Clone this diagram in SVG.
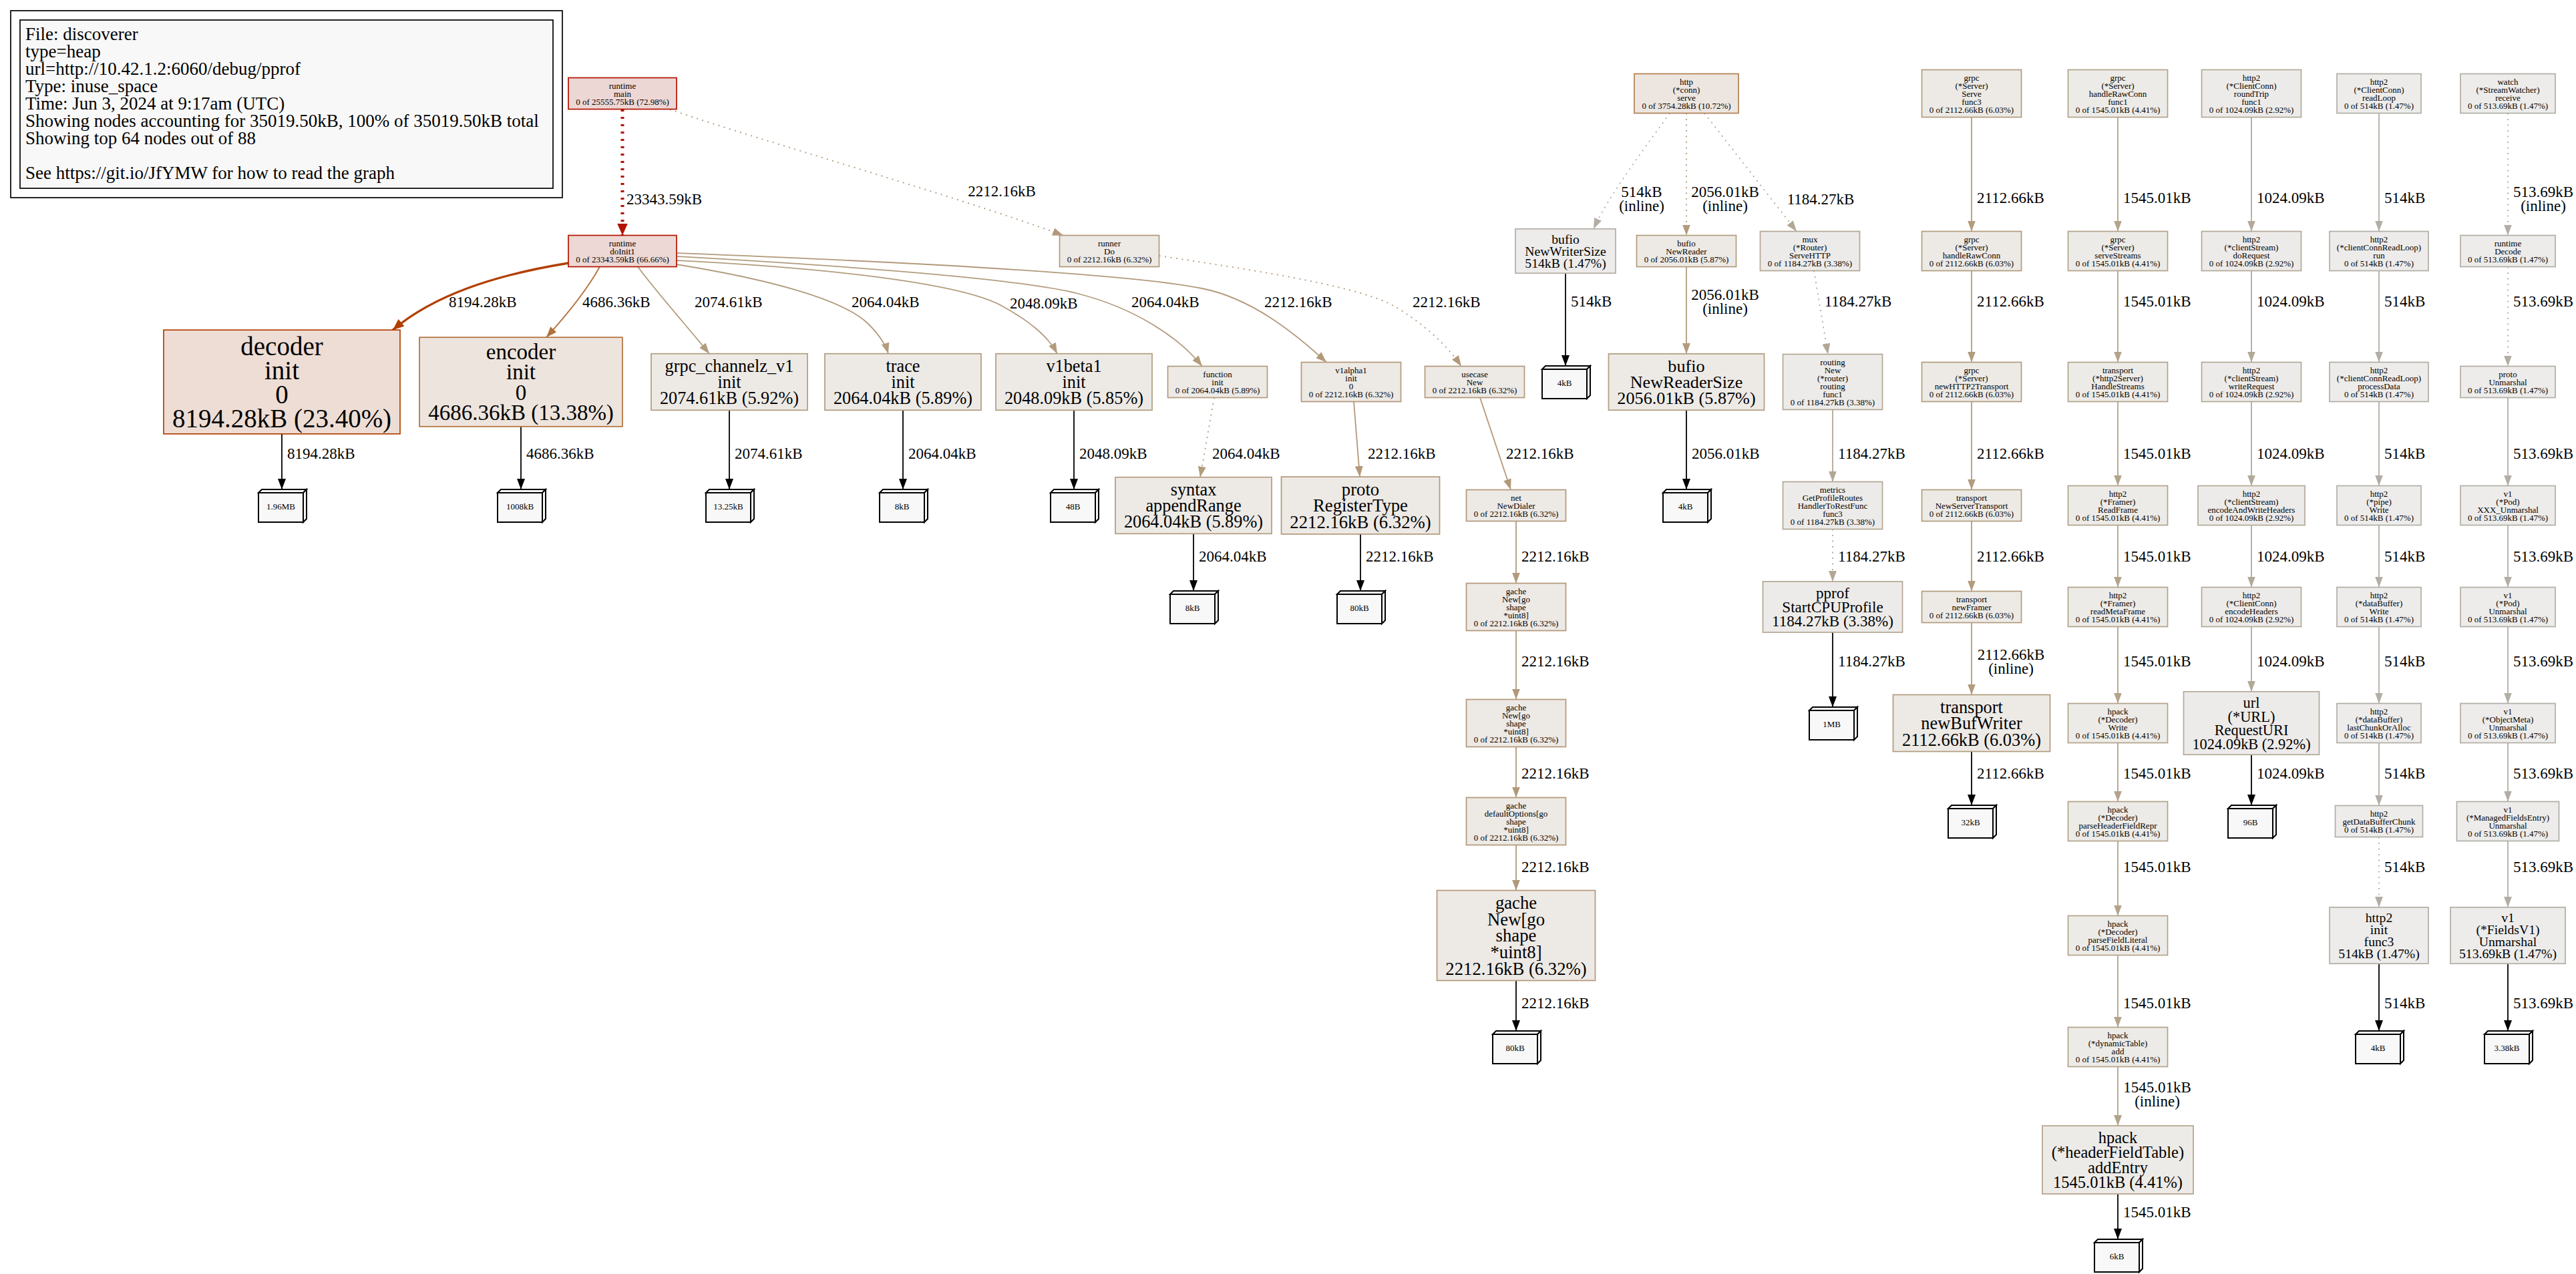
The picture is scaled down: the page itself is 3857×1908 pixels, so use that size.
<svg xmlns="http://www.w3.org/2000/svg" xmlns:xlink="http://www.w3.org/1999/xlink" width="3857" height="1908" viewBox="0 0 3857 1908">
<style>
text{font-family:"Liberation Serif","Times New Roman",serif;fill:#000}
.s{font-size:13px;text-anchor:middle}
.c{text-anchor:middle}
.l{font-size:23px}
.lc{font-size:23px;text-anchor:middle}
.lg{font-size:27px}
.n{stroke-width:1.7}
.nM{fill:#edd7d5;stroke:#b21000}
.nI{fill:#edd8d5;stroke:#b21400}
.nD{fill:#edddd5;stroke:#b23f00}
.nE{fill:#ede4dd;stroke:#b2713b}
.nH{fill:#ede6e0;stroke:#b28152}
.nA{fill:#ede9e5;stroke:#b2997a}
.nB{fill:#edeae6;stroke:#b29c7d}
.nC{fill:#edebe7;stroke:#b2a38b}
.nP{fill:#edebe9;stroke:#b2a794}
.nQ{fill:#edebe9;stroke:#b2a998}
.nF{fill:#edeceb;stroke:#b2aea5}
.e{fill:none;stroke-width:1.8}
.dt{stroke-dasharray:2 6.5}
.cR{stroke:#b21400;stroke-width:5;stroke-dasharray:3 8;marker-end:url(#mR)}
.cD{stroke:#b23f00;stroke-width:3.3;marker-end:url(#mD)}
.cE{stroke:#b2713b;marker-end:url(#mE)}
.cA{stroke:#b2997a;marker-end:url(#mA)}
.cB{stroke:#b29c7d;marker-end:url(#mB)}
.cC{stroke:#b2a38b;marker-end:url(#mC)}
.cP{stroke:#b2a794;marker-end:url(#mP)}
.cQ{stroke:#b2a998;marker-end:url(#mQ)}
.cF{stroke:#b2aea5;marker-end:url(#mF)}
.cK{stroke:#000;marker-end:url(#mK)}
.lf{fill:#f8f8f8;stroke:#000;stroke-width:2;stroke-linejoin:miter}
</style>
<defs>
<marker id="mR" markerUnits="userSpaceOnUse" markerWidth="20" markerHeight="18" refX="18" refY="8" orient="auto"><path d="M0,0L18,8L0,16z" fill="#b21400"/></marker>
<marker id="mD" markerUnits="userSpaceOnUse" markerWidth="19" markerHeight="15" refX="17" refY="7" orient="auto"><path d="M0,0L17,7L0,14z" fill="#b23f00"/></marker>
<marker id="mE" markerUnits="userSpaceOnUse" markerWidth="17" markerHeight="12" refX="16" refY="6" orient="auto"><path d="M0,0L16,6L0,12z" fill="#b2713b"/></marker>
<marker id="mA" markerUnits="userSpaceOnUse" markerWidth="17" markerHeight="12" refX="16" refY="6" orient="auto"><path d="M0,0L16,6L0,12z" fill="#b2997a"/></marker>
<marker id="mB" markerUnits="userSpaceOnUse" markerWidth="17" markerHeight="12" refX="16" refY="6" orient="auto"><path d="M0,0L16,6L0,12z" fill="#b29c7d"/></marker>
<marker id="mC" markerUnits="userSpaceOnUse" markerWidth="17" markerHeight="12" refX="16" refY="6" orient="auto"><path d="M0,0L16,6L0,12z" fill="#b2a38b"/></marker>
<marker id="mP" markerUnits="userSpaceOnUse" markerWidth="17" markerHeight="12" refX="16" refY="6" orient="auto"><path d="M0,0L16,6L0,12z" fill="#b2a794"/></marker>
<marker id="mQ" markerUnits="userSpaceOnUse" markerWidth="17" markerHeight="12" refX="16" refY="6" orient="auto"><path d="M0,0L16,6L0,12z" fill="#b2a998"/></marker>
<marker id="mF" markerUnits="userSpaceOnUse" markerWidth="17" markerHeight="12" refX="16" refY="6" orient="auto"><path d="M0,0L16,6L0,12z" fill="#b2aea5"/></marker>
<marker id="mK" markerUnits="userSpaceOnUse" markerWidth="17" markerHeight="12" refX="16" refY="6" orient="auto"><path d="M0,0L16,6L0,12z" fill="#000"/></marker>
<g id="leaf"><rect class="lf" x="-35" y="-19" width="67" height="44"/><polygon class="lf" points="-35,-19 -30,-24 37,-24 32,-19"/><polygon class="lf" points="32,-19 37,-24 37,20 32,25"/></g>
</defs>
<rect width="3857" height="1908" fill="#fff"/>

<g id="legend">
<rect x="16" y="16" width="826" height="280" fill="#fff" stroke="#000" stroke-width="1.7"/>
<rect x="30" y="30" width="798" height="252" fill="#f8f8f8" stroke="#000" stroke-width="1.7"/>
<text class="lg"><tspan x="38" y="60">File: discoverer</tspan><tspan x="38" y="86">type=heap</tspan><tspan x="38" y="112">url=http://10.42.1.2:6060/debug/pprof</tspan><tspan x="38" y="138">Type: inuse_space</tspan><tspan x="38" y="164">Time: Jun 3, 2024 at 9:17am (UTC)</tspan><tspan x="38" y="190">Showing nodes accounting for 35019.50kB, 100% of 35019.50kB total</tspan><tspan x="38" y="216">Showing top 64 nodes out of 88</tspan><tspan x="38" y="268">See https://git.io/JfYMW for how to read the graph</tspan></text>
</g>

<g id="edges">
<path class="e cR" d="M932,164L932,352.5"/>
<path class="e cA dt" d="M1003,164C1150,214 1420,290 1592,352.5"/>
<path class="e cD" d="M851,394C740,412 650,442 588,494.2"/>
<path class="e cE" d="M898,399.5C880,432 850,470 818,505.2"/>
<path class="e cB" d="M955,399.5C985,440 1030,490 1062,529.7"/>
<path class="e cB" d="M1013,396C1150,418 1262,448 1300,485C1318,503 1326,516 1330,529.7"/>
<path class="e cB" d="M1013,390C1250,402 1440,425 1500,458C1545,483 1570,505 1583,529.7"/>
<path class="e cB" d="M1013,384C1300,400 1530,418 1615,440C1700,462 1765,505 1800,548.5"/>
<path class="e cA" d="M1013,379C1400,394 1700,412 1800,432C1875,447 1940,500 1986,542.5"/>
<path class="e cA dt" d="M1735.5,383C1900,408 2040,430 2090,460C2130,484 2165,515 2188,548.5"/>
<path class="e cB dt" d="M1818,595.5L1797,714.7"/>
<path class="e cA" d="M2027,601.5L2036,714.1"/>
<path class="e cA" d="M2216,595.5L2262,733.5"/>
<path class="e cA" d="M2270,780.5L2270,873.5"/>
<path class="e cA" d="M2270,944.5L2270,1047.5"/>
<path class="e cA" d="M2270,1118.5L2270,1194.5"/>
<path class="e cA" d="M2270,1265.5L2270,1333.5"/>
<path class="e cK" d="M2270,1468.5L2270,1544"/>
<path class="e cK" d="M422,649.8L422,733"/>
<path class="e cK" d="M780,638.8L780,733"/>
<path class="e cK" d="M1092,614.3L1092,733"/>
<path class="e cK" d="M1352,614.3L1352,733"/>
<path class="e cK" d="M1608,614.3L1608,733"/>
<path class="e cK" d="M1787,799.3L1787,885"/>
<path class="e cK" d="M2037,799.9L2037,885"/>
<path class="e cK" d="M2344,409.2L2344,548"/>
<path class="e cK" d="M2525,614.2L2525,733"/>
<path class="e cK" d="M2744,947L2744,1059"/>
<path class="e cK" d="M2952,1125.5L2952,1206"/>
<path class="e cK" d="M3371,1130.2L3371,1206"/>
<path class="e cK" d="M3171,1788L3171,1856"/>
<path class="e cK" d="M3562,1443.2L3562,1544"/>
<path class="e cK" d="M3755,1443.2L3755,1544"/>
<path class="e cF dt" d="M2500,169.5C2470,212 2410,290 2386,342.8"/>
<path class="e cB dt" d="M2525,169.5L2525,352.5"/>
<path class="e cP dt" d="M2552,169.5L2690,346.5"/>
<path class="e cB" d="M2525,399.5L2525,529.9"/>
<path class="e cP dt" d="M2716,405.5L2737,530.5"/>
<path class="e cP" d="M2744,613.5L2744,721.5"/>
<path class="e cP dt" d="M2744,792.5L2744,871"/>
<path class="e cB" d="M2952,175.5L2952,346.5"/>
<path class="e cB" d="M2952,405.5L2952,542.5"/>
<path class="e cB" d="M2952,601.5L2952,733.5"/>
<path class="e cB" d="M2952,780.5L2952,885.5"/>
<path class="e cB" d="M2952,932.5L2952,1040.5"/>
<path class="e cC" d="M3171,175.5L3171,346.5"/>
<path class="e cC" d="M3171,405.5L3171,542.5"/>
<path class="e cC" d="M3171,601.5L3171,727.5"/>
<path class="e cC" d="M3171,786.5L3171,879.5"/>
<path class="e cC" d="M3171,938.5L3171,1053.5"/>
<path class="e cC" d="M3171,1112.5L3171,1200.5"/>
<path class="e cC" d="M3171,1259.5L3171,1371.5"/>
<path class="e cC" d="M3171,1430.5L3171,1538.5"/>
<path class="e cC" d="M3171,1597.5L3171,1686"/>
<path class="e cQ" d="M3371,175.5L3371,346.5"/>
<path class="e cQ" d="M3371,405.5L3371,542.5"/>
<path class="e cQ" d="M3371,601.5L3371,727.5"/>
<path class="e cQ" d="M3371,786.5L3371,879.5"/>
<path class="e cQ" d="M3371,938.5L3371,1035.8"/>
<path class="e cF" d="M3562,169.5L3562,346.5"/>
<path class="e cF" d="M3562,405.5L3562,542.5"/>
<path class="e cF" d="M3562,601.5L3562,727.5"/>
<path class="e cF" d="M3562,786.5L3562,879.5"/>
<path class="e cF" d="M3562,938.5L3562,1053.5"/>
<path class="e cF" d="M3562,1112.5L3562,1206.5"/>
<path class="e cF dt" d="M3562,1253.5L3562,1358.8"/>
<path class="e cF dt" d="M3755,169.5L3755,352.5"/>
<path class="e cF dt" d="M3755,399.5L3755,548.5"/>
<path class="e cF" d="M3755,595.5L3755,727.5"/>
<path class="e cF" d="M3755,786.5L3755,879.5"/>
<path class="e cF" d="M3755,938.5L3755,1053.5"/>
<path class="e cF" d="M3755,1112.5L3755,1200.5"/>
<path class="e cF" d="M3755,1259.5L3755,1358.8"/>

<text class="l" x="938" y="306">23343.59kB</text>
<text class="lc" x="1500" y="294">2212.16kB</text>
<text class="l" x="672" y="460">8194.28kB</text>
<text class="l" x="872" y="460">4686.36kB</text>
<text class="l" x="1040" y="460">2074.61kB</text>
<text class="l" x="1275" y="460">2064.04kB</text>
<text class="l" x="1512" y="462">2048.09kB</text>
<text class="l" x="1694" y="460">2064.04kB</text>
<text class="l" x="1893" y="460">2212.16kB</text>
<text class="l" x="2115" y="460">2212.16kB</text>
<text class="l" x="430" y="687">8194.28kB</text>
<text class="l" x="788" y="687">4686.36kB</text>
<text class="l" x="1100" y="687">2074.61kB</text>
<text class="l" x="1360" y="687">2064.04kB</text>
<text class="l" x="1616" y="687">2048.09kB</text>
<text class="l" x="1815" y="687">2064.04kB</text>
<text class="l" x="2048" y="687">2212.16kB</text>
<text class="l" x="2255" y="687">2212.16kB</text>
<text class="l" x="1795" y="841">2064.04kB</text>
<text class="l" x="2045" y="841">2212.16kB</text>
<text class="l" x="2278" y="841">2212.16kB</text>
<text class="l" x="2278" y="998">2212.16kB</text>
<text class="l" x="2278" y="1166">2212.16kB</text>
<text class="l" x="2278" y="1306">2212.16kB</text>
<text class="l" x="2278" y="1510">2212.16kB</text>
<text class="lc"><tspan x="2458" y="295">514kB</tspan><tspan x="2458" y="316">(inline)</tspan></text>
<text class="l" x="2352" y="459">514kB</text>
<text class="lc"><tspan x="2583" y="295">2056.01kB</tspan><tspan x="2583" y="316">(inline)</tspan></text>
<text class="lc"><tspan x="2583" y="449">2056.01kB</tspan><tspan x="2583" y="470">(inline)</tspan></text>
<text class="l" x="2533" y="687">2056.01kB</text>
<text class="lc" x="2726" y="306">1184.27kB</text>
<text class="lc" x="2782" y="459">1184.27kB</text>
<text class="l" x="2752" y="687">1184.27kB</text>
<text class="l" x="2752" y="841">1184.27kB</text>
<text class="l" x="2752" y="998">1184.27kB</text>
<text class="l" x="2960" y="304">2112.66kB</text>
<text class="l" x="2960" y="459">2112.66kB</text>
<text class="l" x="2960" y="687">2112.66kB</text>
<text class="l" x="2960" y="841">2112.66kB</text>
<text class="lc"><tspan x="3011" y="988">2112.66kB</tspan><tspan x="3011" y="1009">(inline)</tspan></text>
<text class="l" x="2960" y="1166">2112.66kB</text>
<text class="l" x="3179" y="304">1545.01kB</text>
<text class="l" x="3179" y="459">1545.01kB</text>
<text class="l" x="3179" y="687">1545.01kB</text>
<text class="l" x="3179" y="841">1545.01kB</text>
<text class="l" x="3179" y="998">1545.01kB</text>
<text class="l" x="3179" y="1166">1545.01kB</text>
<text class="l" x="3179" y="1306">1545.01kB</text>
<text class="l" x="3179" y="1510">1545.01kB</text>
<text class="lc"><tspan x="3230" y="1636">1545.01kB</tspan><tspan x="3230" y="1657">(inline)</tspan></text>
<text class="l" x="3179" y="1823">1545.01kB</text>
<text class="l" x="3379" y="304">1024.09kB</text>
<text class="l" x="3379" y="459">1024.09kB</text>
<text class="l" x="3379" y="687">1024.09kB</text>
<text class="l" x="3379" y="841">1024.09kB</text>
<text class="l" x="3379" y="998">1024.09kB</text>
<text class="l" x="3379" y="1166">1024.09kB</text>
<text class="l" x="3570" y="304">514kB</text>
<text class="l" x="3570" y="459">514kB</text>
<text class="l" x="3570" y="687">514kB</text>
<text class="l" x="3570" y="841">514kB</text>
<text class="l" x="3570" y="998">514kB</text>
<text class="l" x="3570" y="1166">514kB</text>
<text class="l" x="3570" y="1306">514kB</text>
<text class="l" x="3570" y="1510">514kB</text>
<text class="lc"><tspan x="3808" y="295">513.69kB</tspan><tspan x="3808" y="316">(inline)</tspan></text>
<text class="l" x="3763" y="459">513.69kB</text>
<text class="l" x="3763" y="687">513.69kB</text>
<text class="l" x="3763" y="841">513.69kB</text>
<text class="l" x="3763" y="998">513.69kB</text>
<text class="l" x="3763" y="1166">513.69kB</text>
<text class="l" x="3763" y="1306">513.69kB</text>
<text class="l" x="3763" y="1510">513.69kB</text>
</g>

<g id="n_runtime_main"><rect class="n nM" x="851" y="116.5" width="162" height="47"/><text class="s"><tspan x="932" y="132.5">runtime</tspan><tspan x="932" y="144.5">main</tspan><tspan x="932" y="156.5">0 of 25555.75kB (72.98%)</tspan></text></g>
<g id="n_runtime_doInit1"><rect class="n nI" x="851" y="352.5" width="162" height="47"/><text class="s"><tspan x="932" y="368.5">runtime</tspan><tspan x="932" y="380.5">doInit1</tspan><tspan x="932" y="392.5">0 of 23343.59kB (66.66%)</tspan></text></g>
<g id="n_runner_Do"><rect class="n nA" x="1586.5" y="352.5" width="149" height="47"/><text class="s"><tspan x="1661" y="368.5">runner</tspan><tspan x="1661" y="380.5">Do</tspan><tspan x="1661" y="392.5">0 of 2212.16kB (6.32%)</tspan></text></g>
<g id="n_function_init"><rect class="n nB" x="1748.5" y="548.5" width="149" height="47"/><text class="s"><tspan x="1823" y="564.5">function</tspan><tspan x="1823" y="576.5">init</tspan><tspan x="1823" y="588.5">0 of 2064.04kB (5.89%)</tspan></text></g>
<g id="n_v1alpha1_init"><rect class="n nA" x="1948.5" y="542.5" width="149" height="59"/><text class="s"><tspan x="2023" y="558.5">v1alpha1</tspan><tspan x="2023" y="570.5">init</tspan><tspan x="2023" y="582.5">0</tspan><tspan x="2023" y="594.5">0 of 2212.16kB (6.32%)</tspan></text></g>
<g id="n_usecase_New"><rect class="n nA" x="2133.5" y="548.5" width="149" height="47"/><text class="s"><tspan x="2208" y="564.5">usecase</tspan><tspan x="2208" y="576.5">New</tspan><tspan x="2208" y="588.5">0 of 2212.16kB (6.32%)</tspan></text></g>
<g id="n_net_NewDialer"><rect class="n nA" x="2195.5" y="733.5" width="149" height="47"/><text class="s"><tspan x="2270" y="749.5">net</tspan><tspan x="2270" y="761.5">NewDialer</tspan><tspan x="2270" y="773.5">0 of 2212.16kB (6.32%)</tspan></text></g>
<g id="n_gache_New_1"><rect class="n nA" x="2195.5" y="873.5" width="149" height="71"/><text class="s"><tspan x="2270" y="889.5">gache</tspan><tspan x="2270" y="901.5">New[go</tspan><tspan x="2270" y="913.5">shape</tspan><tspan x="2270" y="925.5">*uint8]</tspan><tspan x="2270" y="937.5">0 of 2212.16kB (6.32%)</tspan></text></g>
<g id="n_gache_New_2"><rect class="n nA" x="2195.5" y="1047.5" width="149" height="71"/><text class="s"><tspan x="2270" y="1063.5">gache</tspan><tspan x="2270" y="1075.5">New[go</tspan><tspan x="2270" y="1087.5">shape</tspan><tspan x="2270" y="1099.5">*uint8]</tspan><tspan x="2270" y="1111.5">0 of 2212.16kB (6.32%)</tspan></text></g>
<g id="n_gache_defaultOptions"><rect class="n nA" x="2195.5" y="1194.5" width="149" height="71"/><text class="s"><tspan x="2270" y="1210.5">gache</tspan><tspan x="2270" y="1222.5">defaultOptions[go</tspan><tspan x="2270" y="1234.5">shape</tspan><tspan x="2270" y="1246.5">*uint8]</tspan><tspan x="2270" y="1258.5">0 of 2212.16kB (6.32%)</tspan></text></g>
<g id="n_http_conn_serve"><rect class="n nH" x="2447" y="110.5" width="156" height="59"/><text class="s"><tspan x="2525" y="126.5">http</tspan><tspan x="2525" y="138.5">(*conn)</tspan><tspan x="2525" y="150.5">serve</tspan><tspan x="2525" y="162.5">0 of 3754.28kB (10.72%)</tspan></text></g>
<g id="n_bufio_NewReader"><rect class="n nB" x="2450.5" y="352.5" width="149" height="47"/><text class="s"><tspan x="2525" y="368.5">bufio</tspan><tspan x="2525" y="380.5">NewReader</tspan><tspan x="2525" y="392.5">0 of 2056.01kB (5.87%)</tspan></text></g>
<g id="n_mux_ServeHTTP"><rect class="n nP" x="2635.5" y="346.5" width="149" height="59"/><text class="s"><tspan x="2710" y="362.5">mux</tspan><tspan x="2710" y="374.5">(*Router)</tspan><tspan x="2710" y="386.5">ServeHTTP</tspan><tspan x="2710" y="398.5">0 of 1184.27kB (3.38%)</tspan></text></g>
<g id="n_routing_New"><rect class="n nP" x="2669.5" y="530.5" width="149" height="83"/><text class="s"><tspan x="2744" y="546.5">routing</tspan><tspan x="2744" y="558.5">New</tspan><tspan x="2744" y="570.5">(*router)</tspan><tspan x="2744" y="582.5">routing</tspan><tspan x="2744" y="594.5">func1</tspan><tspan x="2744" y="606.5">0 of 1184.27kB (3.38%)</tspan></text></g>
<g id="n_metrics"><rect class="n nP" x="2669.5" y="721.5" width="149" height="71"/><text class="s"><tspan x="2744" y="737.5">metrics</tspan><tspan x="2744" y="749.5">GetProfileRoutes</tspan><tspan x="2744" y="761.5">HandlerToRestFunc</tspan><tspan x="2744" y="773.5">func3</tspan><tspan x="2744" y="785.5">0 of 1184.27kB (3.38%)</tspan></text></g>

<g id="n_grpc_Serve_func3"><rect class="n nB" x="2877.5" y="104.5" width="149" height="71"/><text class="s"><tspan x="2952" y="120.5">grpc</tspan><tspan x="2952" y="132.5">(*Server)</tspan><tspan x="2952" y="144.5">Serve</tspan><tspan x="2952" y="156.5">func3</tspan><tspan x="2952" y="168.5">0 of 2112.66kB (6.03%)</tspan></text></g>
<g id="n_grpc_handleRawConn"><rect class="n nB" x="2877.5" y="346.5" width="149" height="59"/><text class="s"><tspan x="2952" y="362.5">grpc</tspan><tspan x="2952" y="374.5">(*Server)</tspan><tspan x="2952" y="386.5">handleRawConn</tspan><tspan x="2952" y="398.5">0 of 2112.66kB (6.03%)</tspan></text></g>
<g id="n_grpc_newHTTP2Transport"><rect class="n nB" x="2877.5" y="542.5" width="149" height="59"/><text class="s"><tspan x="2952" y="558.5">grpc</tspan><tspan x="2952" y="570.5">(*Server)</tspan><tspan x="2952" y="582.5">newHTTP2Transport</tspan><tspan x="2952" y="594.5">0 of 2112.66kB (6.03%)</tspan></text></g>
<g id="n_transport_NewServerTransport"><rect class="n nB" x="2877.5" y="733.5" width="149" height="47"/><text class="s"><tspan x="2952" y="749.5">transport</tspan><tspan x="2952" y="761.5">NewServerTransport</tspan><tspan x="2952" y="773.5">0 of 2112.66kB (6.03%)</tspan></text></g>
<g id="n_transport_newFramer"><rect class="n nB" x="2877.5" y="885.5" width="149" height="47"/><text class="s"><tspan x="2952" y="901.5">transport</tspan><tspan x="2952" y="913.5">newFramer</tspan><tspan x="2952" y="925.5">0 of 2112.66kB (6.03%)</tspan></text></g>

<g id="n_grpc_handleRawConn_func1"><rect class="n nC" x="3096.5" y="104.5" width="149" height="71"/><text class="s"><tspan x="3171" y="120.5">grpc</tspan><tspan x="3171" y="132.5">(*Server)</tspan><tspan x="3171" y="144.5">handleRawConn</tspan><tspan x="3171" y="156.5">func1</tspan><tspan x="3171" y="168.5">0 of 1545.01kB (4.41%)</tspan></text></g>
<g id="n_grpc_serveStreams"><rect class="n nC" x="3096.5" y="346.5" width="149" height="59"/><text class="s"><tspan x="3171" y="362.5">grpc</tspan><tspan x="3171" y="374.5">(*Server)</tspan><tspan x="3171" y="386.5">serveStreams</tspan><tspan x="3171" y="398.5">0 of 1545.01kB (4.41%)</tspan></text></g>
<g id="n_transport_HandleStreams"><rect class="n nC" x="3096.5" y="542.5" width="149" height="59"/><text class="s"><tspan x="3171" y="558.5">transport</tspan><tspan x="3171" y="570.5">(*http2Server)</tspan><tspan x="3171" y="582.5">HandleStreams</tspan><tspan x="3171" y="594.5">0 of 1545.01kB (4.41%)</tspan></text></g>
<g id="n_http2_ReadFrame"><rect class="n nC" x="3096.5" y="727.5" width="149" height="59"/><text class="s"><tspan x="3171" y="743.5">http2</tspan><tspan x="3171" y="755.5">(*Framer)</tspan><tspan x="3171" y="767.5">ReadFrame</tspan><tspan x="3171" y="779.5">0 of 1545.01kB (4.41%)</tspan></text></g>
<g id="n_http2_readMetaFrame"><rect class="n nC" x="3096.5" y="879.5" width="149" height="59"/><text class="s"><tspan x="3171" y="895.5">http2</tspan><tspan x="3171" y="907.5">(*Framer)</tspan><tspan x="3171" y="919.5">readMetaFrame</tspan><tspan x="3171" y="931.5">0 of 1545.01kB (4.41%)</tspan></text></g>
<g id="n_hpack_Write"><rect class="n nC" x="3096.5" y="1053.5" width="149" height="59"/><text class="s"><tspan x="3171" y="1069.5">hpack</tspan><tspan x="3171" y="1081.5">(*Decoder)</tspan><tspan x="3171" y="1093.5">Write</tspan><tspan x="3171" y="1105.5">0 of 1545.01kB (4.41%)</tspan></text></g>
<g id="n_hpack_parseHeaderFieldRepr"><rect class="n nC" x="3096.5" y="1200.5" width="149" height="59"/><text class="s"><tspan x="3171" y="1216.5">hpack</tspan><tspan x="3171" y="1228.5">(*Decoder)</tspan><tspan x="3171" y="1240.5">parseHeaderFieldRepr</tspan><tspan x="3171" y="1252.5">0 of 1545.01kB (4.41%)</tspan></text></g>
<g id="n_hpack_parseFieldLiteral"><rect class="n nC" x="3096.5" y="1371.5" width="149" height="59"/><text class="s"><tspan x="3171" y="1387.5">hpack</tspan><tspan x="3171" y="1399.5">(*Decoder)</tspan><tspan x="3171" y="1411.5">parseFieldLiteral</tspan><tspan x="3171" y="1423.5">0 of 1545.01kB (4.41%)</tspan></text></g>
<g id="n_hpack_dynamicTable_add"><rect class="n nC" x="3096.5" y="1538.5" width="149" height="59"/><text class="s"><tspan x="3171" y="1554.5">hpack</tspan><tspan x="3171" y="1566.5">(*dynamicTable)</tspan><tspan x="3171" y="1578.5">add</tspan><tspan x="3171" y="1590.5">0 of 1545.01kB (4.41%)</tspan></text></g>

<g id="n_http2_roundTrip_func1"><rect class="n nQ" x="3296.5" y="104.5" width="149" height="71"/><text class="s"><tspan x="3371" y="120.5">http2</tspan><tspan x="3371" y="132.5">(*ClientConn)</tspan><tspan x="3371" y="144.5">roundTrip</tspan><tspan x="3371" y="156.5">func1</tspan><tspan x="3371" y="168.5">0 of 1024.09kB (2.92%)</tspan></text></g>
<g id="n_http2_doRequest"><rect class="n nQ" x="3296.5" y="346.5" width="149" height="59"/><text class="s"><tspan x="3371" y="362.5">http2</tspan><tspan x="3371" y="374.5">(*clientStream)</tspan><tspan x="3371" y="386.5">doRequest</tspan><tspan x="3371" y="398.5">0 of 1024.09kB (2.92%)</tspan></text></g>
<g id="n_http2_writeRequest"><rect class="n nQ" x="3296.5" y="542.5" width="149" height="59"/><text class="s"><tspan x="3371" y="558.5">http2</tspan><tspan x="3371" y="570.5">(*clientStream)</tspan><tspan x="3371" y="582.5">writeRequest</tspan><tspan x="3371" y="594.5">0 of 1024.09kB (2.92%)</tspan></text></g>
<g id="n_http2_encodeAndWriteHeaders"><rect class="n nQ" x="3291" y="727.5" width="160" height="59"/><text class="s"><tspan x="3371" y="743.5">http2</tspan><tspan x="3371" y="755.5">(*clientStream)</tspan><tspan x="3371" y="767.5">encodeAndWriteHeaders</tspan><tspan x="3371" y="779.5">0 of 1024.09kB (2.92%)</tspan></text></g>
<g id="n_http2_encodeHeaders"><rect class="n nQ" x="3296.5" y="879.5" width="149" height="59"/><text class="s"><tspan x="3371" y="895.5">http2</tspan><tspan x="3371" y="907.5">(*ClientConn)</tspan><tspan x="3371" y="919.5">encodeHeaders</tspan><tspan x="3371" y="931.5">0 of 1024.09kB (2.92%)</tspan></text></g>

<g id="n_http2_readLoop"><rect class="n nF" x="3499" y="110.5" width="126" height="59"/><text class="s"><tspan x="3562" y="126.5">http2</tspan><tspan x="3562" y="138.5">(*ClientConn)</tspan><tspan x="3562" y="150.5">readLoop</tspan><tspan x="3562" y="162.5">0 of 514kB (1.47%)</tspan></text></g>
<g id="n_http2_run"><rect class="n nF" x="3488" y="346.5" width="148" height="59"/><text class="s"><tspan x="3562" y="362.5">http2</tspan><tspan x="3562" y="374.5">(*clientConnReadLoop)</tspan><tspan x="3562" y="386.5">run</tspan><tspan x="3562" y="398.5">0 of 514kB (1.47%)</tspan></text></g>
<g id="n_http2_processData"><rect class="n nF" x="3488" y="542.5" width="148" height="59"/><text class="s"><tspan x="3562" y="558.5">http2</tspan><tspan x="3562" y="570.5">(*clientConnReadLoop)</tspan><tspan x="3562" y="582.5">processData</tspan><tspan x="3562" y="594.5">0 of 514kB (1.47%)</tspan></text></g>
<g id="n_http2_pipe_Write"><rect class="n nF" x="3499" y="727.5" width="126" height="59"/><text class="s"><tspan x="3562" y="743.5">http2</tspan><tspan x="3562" y="755.5">(*pipe)</tspan><tspan x="3562" y="767.5">Write</tspan><tspan x="3562" y="779.5">0 of 514kB (1.47%)</tspan></text></g>
<g id="n_http2_dataBuffer_Write"><rect class="n nF" x="3499" y="879.5" width="126" height="59"/><text class="s"><tspan x="3562" y="895.5">http2</tspan><tspan x="3562" y="907.5">(*dataBuffer)</tspan><tspan x="3562" y="919.5">Write</tspan><tspan x="3562" y="931.5">0 of 514kB (1.47%)</tspan></text></g>
<g id="n_http2_lastChunkOrAlloc"><rect class="n nF" x="3499" y="1053.5" width="126" height="59"/><text class="s"><tspan x="3562" y="1069.5">http2</tspan><tspan x="3562" y="1081.5">(*dataBuffer)</tspan><tspan x="3562" y="1093.5">lastChunkOrAlloc</tspan><tspan x="3562" y="1105.5">0 of 514kB (1.47%)</tspan></text></g>
<g id="n_http2_getDataBufferChunk"><rect class="n nF" x="3496.5" y="1206.5" width="131" height="47"/><text class="s"><tspan x="3562" y="1222.5">http2</tspan><tspan x="3562" y="1234.5">getDataBufferChunk</tspan><tspan x="3562" y="1246.5">0 of 514kB (1.47%)</tspan></text></g>

<g id="n_watch_receive"><rect class="n nF" x="3684" y="110.5" width="142" height="59"/><text class="s"><tspan x="3755" y="126.5">watch</tspan><tspan x="3755" y="138.5">(*StreamWatcher)</tspan><tspan x="3755" y="150.5">receive</tspan><tspan x="3755" y="162.5">0 of 513.69kB (1.47%)</tspan></text></g>
<g id="n_runtime_Decode"><rect class="n nF" x="3684" y="352.5" width="142" height="47"/><text class="s"><tspan x="3755" y="368.5">runtime</tspan><tspan x="3755" y="380.5">Decode</tspan><tspan x="3755" y="392.5">0 of 513.69kB (1.47%)</tspan></text></g>
<g id="n_proto_Unmarshal"><rect class="n nF" x="3684" y="548.5" width="142" height="47"/><text class="s"><tspan x="3755" y="564.5">proto</tspan><tspan x="3755" y="576.5">Unmarshal</tspan><tspan x="3755" y="588.5">0 of 513.69kB (1.47%)</tspan></text></g>
<g id="n_v1_Pod_XXX_Unmarshal"><rect class="n nF" x="3684" y="727.5" width="142" height="59"/><text class="s"><tspan x="3755" y="743.5">v1</tspan><tspan x="3755" y="755.5">(*Pod)</tspan><tspan x="3755" y="767.5">XXX_Unmarshal</tspan><tspan x="3755" y="779.5">0 of 513.69kB (1.47%)</tspan></text></g>
<g id="n_v1_Pod_Unmarshal"><rect class="n nF" x="3684" y="879.5" width="142" height="59"/><text class="s"><tspan x="3755" y="895.5">v1</tspan><tspan x="3755" y="907.5">(*Pod)</tspan><tspan x="3755" y="919.5">Unmarshal</tspan><tspan x="3755" y="931.5">0 of 513.69kB (1.47%)</tspan></text></g>
<g id="n_v1_ObjectMeta_Unmarshal"><rect class="n nF" x="3684" y="1053.5" width="142" height="59"/><text class="s"><tspan x="3755" y="1069.5">v1</tspan><tspan x="3755" y="1081.5">(*ObjectMeta)</tspan><tspan x="3755" y="1093.5">Unmarshal</tspan><tspan x="3755" y="1105.5">0 of 513.69kB (1.47%)</tspan></text></g>
<g id="n_v1_ManagedFieldsEntry_Unmarshal"><rect class="n nF" x="3678.5" y="1200.5" width="153" height="59"/><text class="s"><tspan x="3755" y="1216.5">v1</tspan><tspan x="3755" y="1228.5">(*ManagedFieldsEntry)</tspan><tspan x="3755" y="1240.5">Unmarshal</tspan><tspan x="3755" y="1252.5">0 of 513.69kB (1.47%)</tspan></text></g>

<g id="n_decoder_init"><rect class="n nD" x="245" y="494.2" width="354" height="155.6"/><text class="c" font-size="39"><tspan x="422" y="531.8">decoder</tspan><tspan x="422" y="567.7">init</tspan><tspan x="422" y="603.6">0</tspan><tspan x="422" y="639.5">8194.28kB (23.40%)</tspan></text></g>
<g id="n_encoder_init"><rect class="n nE" x="628" y="505.2" width="304" height="133.6"/><text class="c" font-size="33"><tspan x="780" y="538">encoder</tspan><tspan x="780" y="568.4">init</tspan><tspan x="780" y="598.8">0</tspan><tspan x="780" y="629.2">4686.36kB (13.38%)</tspan></text></g>
<g id="n_grpc_channelz_v1_init"><rect class="n nB" x="975" y="529.7" width="234" height="84.6"/><text class="c" font-size="26.3"><tspan x="1092" y="557">grpc_channelz_v1</tspan><tspan x="1092" y="581.2">init</tspan><tspan x="1092" y="605.4">2074.61kB (5.92%)</tspan></text></g>
<g id="n_trace_init"><rect class="n nB" x="1235" y="529.7" width="234" height="84.6"/><text class="c" font-size="26.3"><tspan x="1352" y="557">trace</tspan><tspan x="1352" y="581.2">init</tspan><tspan x="1352" y="605.4">2064.04kB (5.89%)</tspan></text></g>
<g id="n_v1beta1_init"><rect class="n nB" x="1491" y="529.7" width="234" height="84.6"/><text class="c" font-size="26.3"><tspan x="1608" y="557">v1beta1</tspan><tspan x="1608" y="581.2">init</tspan><tspan x="1608" y="605.4">2048.09kB (5.85%)</tspan></text></g>
<g id="n_syntax_appendRange"><rect class="n nB" x="1670" y="714.7" width="234" height="84.6"/><text class="c" font-size="26.3"><tspan x="1787" y="742">syntax</tspan><tspan x="1787" y="766.2">appendRange</tspan><tspan x="1787" y="790.4">2064.04kB (5.89%)</tspan></text></g>
<g id="n_proto_RegisterType"><rect class="n nA" x="1918.5" y="714.1" width="237" height="85.8"/><text class="c" font-size="26.7"><tspan x="2037" y="741.7">proto</tspan><tspan x="2037" y="766.3">RegisterType</tspan><tspan x="2037" y="790.9">2212.16kB (6.32%)</tspan></text></g>
<g id="n_bufio_NewWriterSize"><rect class="n nF" x="2269" y="342.8" width="150" height="66.4"/><text class="c" font-size="19.7"><tspan x="2344" y="364.8">bufio</tspan><tspan x="2344" y="382.9">NewWriterSize</tspan><tspan x="2344" y="401">514kB (1.47%)</tspan></text></g>
<g id="n_bufio_NewReaderSize"><rect class="n nB" x="2408.5" y="529.9" width="233" height="84.3"/><text class="c" font-size="26.2"><tspan x="2525" y="557.1">bufio</tspan><tspan x="2525" y="581.2">NewReaderSize</tspan><tspan x="2525" y="605.3">2056.01kB (5.87%)</tspan></text></g>
<g id="n_pprof_StartCPUProfile"><rect class="n nP" x="2639.5" y="871" width="209" height="76"/><text class="c" font-size="23.1"><tspan x="2744" y="895.8">pprof</tspan><tspan x="2744" y="917.1">StartCPUProfile</tspan><tspan x="2744" y="938.4">1184.27kB (3.38%)</tspan></text></g>
<g id="n_transport_newBufWriter"><rect class="n nB" x="2834.5" y="1040.5" width="235" height="85"/><text class="c" font-size="26.4"><tspan x="2952" y="1067.9">transport</tspan><tspan x="2952" y="1092.2">newBufWriter</tspan><tspan x="2952" y="1116.5">2112.66kB (6.03%)</tspan></text></g>
<g id="n_gache_New_flat"><rect class="n nA" x="2151.5" y="1333.5" width="237" height="135"/><text class="c" font-size="26.7"><tspan x="2270" y="1361.1">gache</tspan><tspan x="2270" y="1385.7">New[go</tspan><tspan x="2270" y="1410.3">shape</tspan><tspan x="2270" y="1434.9">*uint8]</tspan><tspan x="2270" y="1459.5">2212.16kB (6.32%)</tspan></text></g>
<g id="n_url_RequestURI"><rect class="n nQ" x="3269.5" y="1035.8" width="203" height="94.4"/><text class="c" font-size="22.4"><tspan x="3371" y="1059.9">url</tspan><tspan x="3371" y="1080.5">(*URL)</tspan><tspan x="3371" y="1101.1">RequestURI</tspan><tspan x="3371" y="1121.7">1024.09kB (2.92%)</tspan></text></g>
<g id="n_hpack_addEntry"><rect class="n nC" x="3058" y="1686" width="226" height="102"/><text class="c" font-size="24.5"><tspan x="3171" y="1711.9">hpack</tspan><tspan x="3171" y="1734.4">(*headerFieldTable)</tspan><tspan x="3171" y="1756.9">addEntry</tspan><tspan x="3171" y="1779.4">1545.01kB (4.41%)</tspan></text></g>
<g id="n_http2_init_func3"><rect class="n nF" x="3488" y="1358.8" width="148" height="84.4"/><text class="c" font-size="19.7"><tspan x="3562" y="1380.8">http2</tspan><tspan x="3562" y="1398.9">init</tspan><tspan x="3562" y="1417">func3</tspan><tspan x="3562" y="1435.1">514kB (1.47%)</tspan></text></g>
<g id="n_v1_FieldsV1_Unmarshal"><rect class="n nF" x="3669" y="1358.8" width="172" height="84.4"/><text class="c" font-size="19.7"><tspan x="3755" y="1380.8">v1</tspan><tspan x="3755" y="1398.9">(*FieldsV1)</tspan><tspan x="3755" y="1417">Unmarshal</tspan><tspan x="3755" y="1435.1">513.69kB (1.47%)</tspan></text></g>

<g id="leaf_decoder"><use xlink:href="#leaf" x="422" y="757"/><text class="s" x="420.5" y="762.5">1.96MB</text></g>
<g id="leaf_encoder"><use xlink:href="#leaf" x="780" y="757"/><text class="s" x="778.5" y="762.5">1008kB</text></g>
<g id="leaf_channelz"><use xlink:href="#leaf" x="1092" y="757"/><text class="s" x="1090.5" y="762.5">13.25kB</text></g>
<g id="leaf_trace"><use xlink:href="#leaf" x="1352" y="757"/><text class="s" x="1350.5" y="762.5">8kB</text></g>
<g id="leaf_v1beta1"><use xlink:href="#leaf" x="1608" y="757"/><text class="s" x="1606.5" y="762.5">48B</text></g>
<g id="leaf_syntax"><use xlink:href="#leaf" x="1787" y="909"/><text class="s" x="1785.5" y="914.5">8kB</text></g>
<g id="leaf_proto"><use xlink:href="#leaf" x="2037" y="909"/><text class="s" x="2035.5" y="914.5">80kB</text></g>
<g id="leaf_writer"><use xlink:href="#leaf" x="2344" y="572"/><text class="s" x="2342.5" y="577.5">4kB</text></g>
<g id="leaf_reader"><use xlink:href="#leaf" x="2525" y="757"/><text class="s" x="2523.5" y="762.5">4kB</text></g>
<g id="leaf_pprof"><use xlink:href="#leaf" x="2744" y="1083"/><text class="s" x="2742.5" y="1088.5">1MB</text></g>
<g id="leaf_bufwriter"><use xlink:href="#leaf" x="2952" y="1230"/><text class="s" x="2950.5" y="1235.5">32kB</text></g>
<g id="leaf_gache"><use xlink:href="#leaf" x="2270" y="1568"/><text class="s" x="2268.5" y="1573.5">80kB</text></g>
<g id="leaf_url"><use xlink:href="#leaf" x="3371" y="1230"/><text class="s" x="3369.5" y="1235.5">96B</text></g>
<g id="leaf_addEntry"><use xlink:href="#leaf" x="3171" y="1880"/><text class="s" x="3169.5" y="1885.5">6kB</text></g>
<g id="leaf_http2init"><use xlink:href="#leaf" x="3562" y="1568"/><text class="s" x="3560.5" y="1573.5">4kB</text></g>
<g id="leaf_fieldsv1"><use xlink:href="#leaf" x="3755" y="1568"/><text class="s" x="3753.5" y="1573.5">3.38kB</text></g>
</svg>
